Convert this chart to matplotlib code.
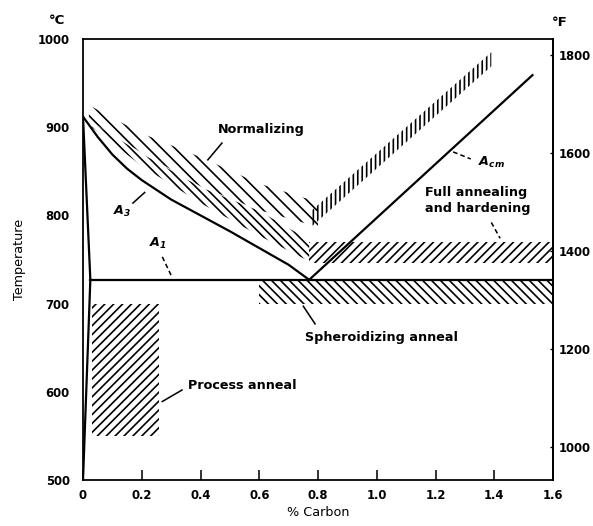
import matplotlib
matplotlib.use("Agg")
import matplotlib.pyplot as plt
import numpy as np

# Iron-carbon phase boundaries (% C, deg C)
a3_x = [0.0, 0.05, 0.1, 0.15, 0.2, 0.3, 0.4, 0.5, 0.6, 0.7, 0.77]
a3_t = [912, 889, 869, 853, 840, 818, 800, 782, 763, 744, 727]
acm_x = [0.77, 1.53]
acm_t = [727, 959]
a1_x = [0.025, 1.6]
a1_t = [727, 727]
ferrite_x = [0.0, 0.025, 0.0]
ferrite_t = [912, 727, 500]

# Heat-treatment ranges
norm_left_x = [0.02, 0.2, 0.4, 0.6, 0.8]
norm_left_lo = [908, 871, 833, 806, 787]
norm_left_hi = [925, 893, 866, 836, 815]
norm_right_x = [0.78, 1.39]
norm_right_lo = [788, 969]
norm_right_hi = [806, 985]
full_hypo_x = [0.03, 0.2, 0.4, 0.6, 0.77]
full_hypo_lo = [900, 856, 814, 777, 748]
full_hypo_hi = [906, 870, 832, 805, 772]
full_hyper_x = [0.77, 1.6]
full_hyper_lo = [746, 746]
full_hyper_hi = [770, 770]
spher_x = [0.6, 1.6]
spher_lo = [700, 700]
spher_hi = [727, 727]
process_x = [0.03, 0.26]
process_lo = [550, 550]
process_hi = [700, 700]

x_ticks = [0, 0.2, 0.4, 0.6, 0.8, 1.0, 1.2, 1.4, 1.6]
x_labels = ["0", "0.2", "0.4", "0.6", "0.8", "1.0", "1.2", "1.4", "1.6"]
c_ticks = [500, 600, 700, 800, 900, 1000]
f_ticks = [1000, 1200, 1400, 1600, 1800]

plt.rcParams["font.family"] = "DejaVu Sans"
plt.rcParams["font.weight"] = "bold"
plt.rcParams["mathtext.default"] = "bfit"
plt.rcParams["hatch.linewidth"] = 1.5
plt.rcParams["hatch.color"] = "black"

DPI = 80
fig = plt.figure(figsize=(593 / DPI, 526 / DPI), dpi=DPI)
ax = fig.add_axes([83 / 593, 1 - 480 / 526, 470 / 593, 441 / 526])
ax.set_xlim(0, 1.6)
ax.set_ylim(500, 1000)


def band(x, lo, hi, hatch):
    ax.fill_between(x, lo, hi, facecolor="none", edgecolor="black",
                    hatch=hatch, linewidth=0)


band(norm_left_x, norm_left_lo, norm_left_hi, "\\\\")
band(norm_right_x, norm_right_lo, norm_right_hi, "|||")
band(full_hypo_x, full_hypo_lo, full_hypo_hi, "\\\\\\")
band(full_hyper_x, full_hyper_lo, full_hyper_hi, "///")
band(spher_x, spher_lo, spher_hi, "\\\\\\")
band(process_x, process_lo, process_hi, "///")

lw = 2.0
ax.plot(a3_x, a3_t, color="black", lw=lw, solid_joinstyle="round")
ax.plot(acm_x, acm_t, color="black", lw=lw)
ax.plot(a1_x, a1_t, color="black", lw=lw)
ax.plot(ferrite_x, ferrite_t, color="black", lw=lw)

fs = 11.5
ptr = dict(color="black", lw=1.4)
ax.text(0.46, 897, "Normalizing", fontsize=fs, va="center", ha="left")
ax.plot([0.425, 0.473], [863, 882], **ptr)
ax.text(0.133, 804, "$A_3$", fontsize=fs, va="center", ha="center")
ax.plot([0.17, 0.21], [814, 826], **ptr)
ax.text(0.255, 768, "$A_1$", fontsize=fs, va="center", ha="center")
ax.plot([0.27, 0.30], [753, 732], ls=(0, (3, 2)), **ptr)
ax.text(1.39, 860, "$A_{cm}$", fontsize=fs, va="center", ha="center")
ax.plot([1.26, 1.32], [872, 864], ls=(0, (3, 2)), **ptr)
ax.text(1.164, 817, "Full annealing\nand hardening", fontsize=fs,
        va="center", ha="left", linespacing=1.25)
ax.plot([1.39, 1.42], [792, 774], ls=(0, (3, 2)), **ptr)
ax.text(0.756, 662, "Spheroidizing anneal", fontsize=fs, va="center",
        ha="left")
ax.plot([0.75, 0.79], [697, 677], **ptr)
ax.text(0.357, 607, "Process anneal", fontsize=fs, va="center", ha="left")
ax.plot([0.27, 0.337], [589, 602], **ptr)

for s in ax.spines.values():
    s.set_linewidth(1.6)

ax.set_xticks(x_ticks)
ax.set_xticklabels(x_labels)
ax.set_yticks(c_ticks)
ax.tick_params(axis="x", direction="in", length=9, width=1.4, pad=8,
               labelsize=10.5)
ax.tick_params(axis="y", length=0, pad=12, labelsize=10.5)


def c2f(c):
    return np.asarray(c) * 9 / 5 + 32


def f2c(f):
    return (np.asarray(f) - 32) * 5 / 9


sec = ax.secondary_yaxis("right", functions=(c2f, f2c))
sec.set_yticks(f_ticks)
sec.tick_params(direction="in", length=3, width=1.2, pad=5, labelsize=10.5)
sec.spines["right"].set_linewidth(1.6)

fig.text(57 / 593, 1 - 21 / 526, "°C", fontsize=12, ha="center",
         va="center")
fig.text(560 / 593, 1 - 22 / 526, "°F", fontsize=12, ha="center",
         va="center")
fig.text(20 / 593, 1 - 259 / 526, "Temperature", fontsize=11.5, rotation=90,
         ha="center", va="center", fontweight="normal")
fig.text(318 / 593, 1 - 513 / 526, "% Carbon", fontsize=11.5, ha="center",
         va="center", fontweight="normal")

fig.savefig("out.png", dpi=DPI)
